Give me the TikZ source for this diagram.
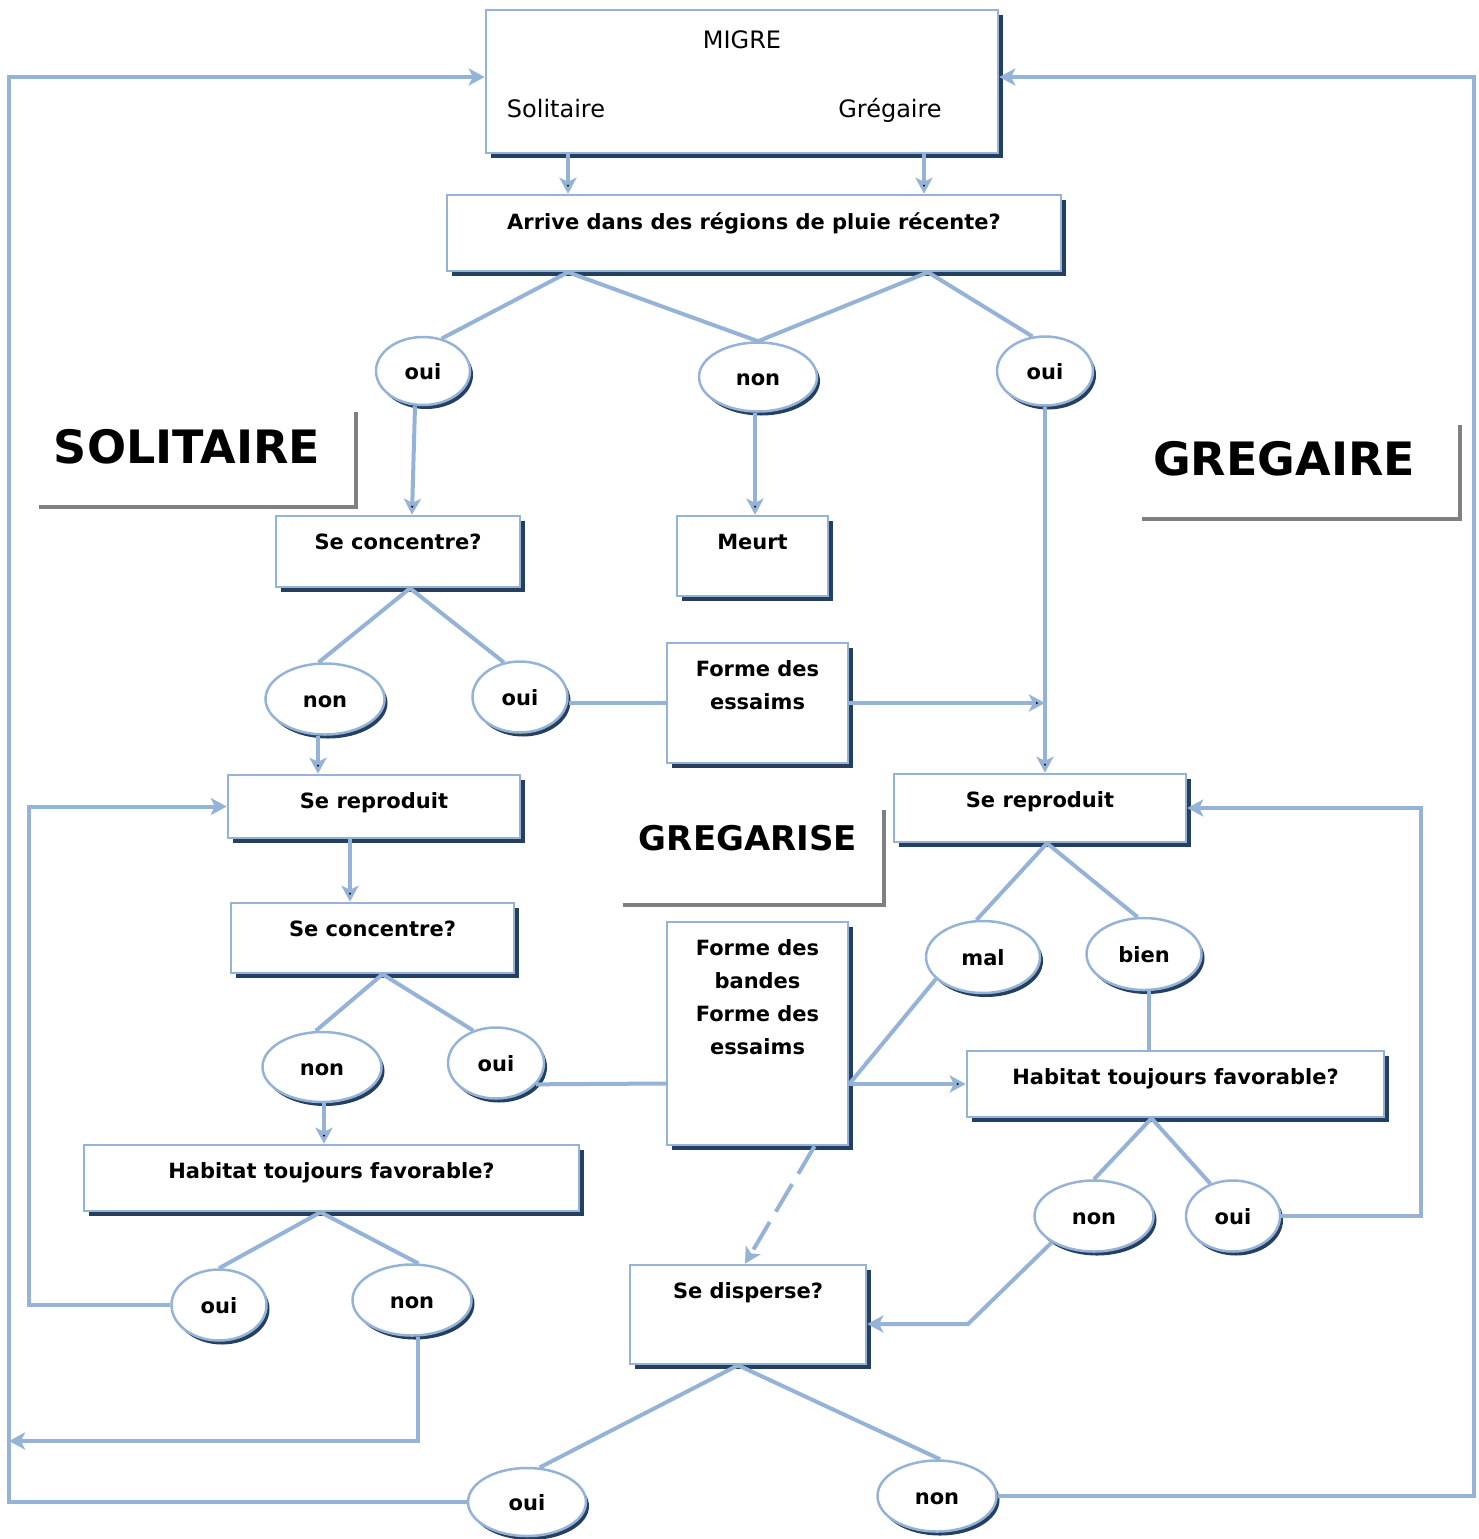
\documentclass[tikz,border=0pt]{standalone}
\usepackage{fontspec}
\setmainfont{DejaVu Sans}
\usetikzlibrary{shapes.geometric}
\usetikzlibrary{shadows}
\usetikzlibrary{arrows.meta}
\definecolor{lblue}{RGB}{149,179,215}
\definecolor{navy}{RGB}{36,63,96}
\definecolor{framegray}{RGB}{128,128,128}

\begin{document}
\begin{tikzpicture}[x=1pt,y=-1pt,>={Stealth[length=16pt,width=17pt,inset=4pt]},
  box/.style={rectangle,draw=lblue,line width=2.5pt,fill=white,drop shadow={shadow xshift=5pt,shadow yshift=-5pt,fill=navy,opacity=1}},
  oval/.style={ellipse,draw=lblue,line width=2.5pt,fill=white,inner sep=0pt,text height=17pt,text depth=0pt,font=\fontsize{21}{25}\selectfont\bfseries,drop shadow={shadow xshift=3pt,shadow yshift=-4pt,fill=navy,opacity=1}},
  lbl/.style={anchor=north,inner sep=0pt,yshift=-19pt,align=center,font=\fontsize{21}{33}\selectfont\bfseries},
  line/.style={draw=lblue,line width=4pt},
  frame/.style={draw=framegray,line width=4pt},
  title/.style={font=\fontsize{46}{50}\selectfont\bfseries}]

  \useasboundingbox (0,0) rectangle (1478,1539);

  % boxes
  \node[box,minimum width=512,minimum height=143,label={[lbl,yshift=-3pt,font=\fontsize{24}{28}\selectfont]north:MIGRE}] at (742,81.5) (migre) {};
  \node[anchor=base,font=\fontsize{24}{28}\selectfont] at (556,117) (soli) {Solitaire};
  \node[anchor=base,font=\fontsize{24}{28}\selectfont] at (890,117) (greg) {Grégaire};
  \node[box,minimum width=614,minimum height=76,label={[lbl]north:Arrive dans des régions de pluie récente?}] at (754,233) (arrive) {};
  \node[box,minimum width=244,minimum height=71,label={[lbl]north:Se concentre?}] at (398,551.5) (conc1) {};
  \node[box,minimum width=151,minimum height=80,label={[lbl]north:Meurt}] at (752.5,556) (meurt) {};
  \node[box,minimum width=181,minimum height=120,label={[lbl]north:Forme des\\essaims}] at (757.5,703) (essaims) {};
  \node[box,minimum width=292,minimum height=63,label={[lbl]north:Se reproduit}] at (374,806.5) (reprodL) {};
  \node[box,minimum width=292,minimum height=68,label={[lbl]north:Se reproduit}] at (1040,808) (reprodR) {};
  \node[box,minimum width=283,minimum height=70,label={[lbl]north:Se concentre?}] at (372.5,938) (conc2) {};
  \node[box,minimum width=181,minimum height=223,label={[lbl]north:Forme des\\bandes\\Forme des\\essaims}] at (757.5,1033.5) (bandes) {};
  \node[box,minimum width=495,minimum height=66,label={[lbl]north:Habitat toujours favorable?}] at (331.5,1178) (habL) {};
  \node[box,minimum width=417,minimum height=66,label={[lbl]north:Habitat toujours favorable?}] at (1175.5,1084) (habR) {};
  \node[box,minimum width=236,minimum height=99,label={[lbl]north:Se disperse?}] at (748,1314.5) (disp) {};

  % answers
  \node[oval,minimum width=94,minimum height=68] at (423,371) (oui1) {oui};
  \node[oval,minimum width=118,minimum height=69] at (758,377) (non1) {non};
  \node[oval,minimum width=96,minimum height=69] at (1045,371) (oui2) {oui};
  \node[oval,minimum width=119,minimum height=71] at (325,699) (non2) {non};
  \node[oval,minimum width=95,minimum height=71] at (520,697) (oui3) {oui};
  \node[oval,minimum width=114,minimum height=72] at (983,957) (mal) {mal};
  \node[oval,minimum width=115,minimum height=72] at (1144,954) (bien) {bien};
  \node[oval,minimum width=119,minimum height=70] at (322,1067) (non3) {non};
  \node[oval,minimum width=96,minimum height=71] at (496,1063) (oui4) {oui};
  \node[oval,minimum width=119,minimum height=71] at (1094,1216) (non4) {non};
  \node[oval,minimum width=94,minimum height=71] at (1233,1216) (oui5) {oui};
  \node[oval,minimum width=95,minimum height=71] at (219,1305) (oui6) {oui};
  \node[oval,minimum width=119,minimum height=71] at (412,1300) (non5) {non};
  \node[oval,minimum width=118,minimum height=68] at (527,1502) (oui7) {oui};
  \node[oval,minimum width=119,minimum height=71] at (937,1496) (non6) {non};

  % titles
  \node[title] at (187,447) (solitaire) {SOLITAIRE};
  \node[title] at (1284,459) (gregaire) {GREGAIRE};
  \node[title,font=\fontsize{34}{40}\selectfont\bfseries] at (748,838) (gregarise) {GREGARISE};
  \draw[frame] (39,507) -| (356,412);
  \draw[frame] (1142,519) -| (1460,425);
  \draw[frame] (623,905) -| (884,810);

  \coordinate (xL1) at (9,0);
  \coordinate (xL2) at (29,0);
  \coordinate (xR1) at (1474,0);
  \coordinate (xR2) at (1421,0);
  \coordinate (back) at (9,1441);
  \coordinate (kneeR) at (968,1324);
  \coordinate (join) at (bandes.east |- habR.west);
  \coordinate (migreW) at ([yshift=4.5pt]migre.west);
  \coordinate (migreE) at ([yshift=4.5pt]migre.east);

  \path[line]
  ([xshift=-174pt]migre.south) edge[->] ([xshift=-186pt]arrive.north)
  ([xshift=182pt]migre.south) edge[->] ([xshift=170pt]arrive.north)
  ([xshift=-186pt]arrive.south) edge (oui1.60)
  ([xshift=-186pt]arrive.south) edge (non1.north)
  ([xshift=174pt]arrive.south) edge (non1.north)
  ([xshift=174pt]arrive.south) edge (oui2.110)
  ([xshift=-8pt]oui1.south) edge[->] ([xshift=14pt]conc1.north)
  ([xshift=-3pt]non1.south) edge[->] ([xshift=-3pt]non1.south |- meurt.north)
  (oui2.south) edge[->] (oui2.south |- reprodR.north)
  ([xshift=12pt]conc1.south) edge (non2.100)
  ([xshift=12pt]conc1.south) edge (oui3.115)
  (essaims.west) edge (essaims.west -| oui3.east)
  (essaims.east) edge[->] (essaims.east -| oui2.south)
  ([xshift=-7pt]non2.south) edge[->] ([xshift=-7pt]non2.south |- reprodL.north)
  ([xshift=-24pt]reprodL.south) edge[->] ([xshift=-22.5pt]conc2.north)
  ([xshift=10pt]conc2.south) edge (non3.100)
  ([xshift=10pt]conc2.south) edge (oui4.125)
  ([yshift=-50pt]bandes.west) edge (oui4.-28)
  ([xshift=2pt]non3.south) edge[->] ([xshift=2pt]non3.south |- habL.north)
  ([xshift=-11pt]habL.south) edge (oui6.north)
  ([xshift=-11pt]habL.south) edge (non5.80)
  ([xshift=7pt]reprodR.south) edge (mal.100)
  ([xshift=7pt]reprodR.south) edge (bien.100)
  ([xshift=5pt]bien.south) edge ([xshift=5pt]bien.south |- habR.north)
  ([xshift=-24pt]habR.south) edge (non4.north)
  ([xshift=-24pt]habR.south) edge (oui5.125)
  (mal.205) edge (join)
  (join) edge[->] (habR.west)
  ([xshift=-10pt]disp.south) edge (oui7.70)
  ([xshift=-10pt]disp.south) edge (non6.85);

  \draw[line,->,dash pattern=on 32pt off 12pt] ([xshift=57pt]bandes.south) -- ([xshift=-3pt]disp.north);
  \draw[line,->] (non4.212) -- (kneeR) -- (kneeR -| disp.east);
  \draw[line,->] (oui7.west) -| (xL1 |- migreW) -- (migreW);
  \draw[line,->] (non6.east) -| (xR1 |- migreE) -- (migreE);
  \draw[line,->] (oui6.west) -| (xL2 |- reprodL.west) -- (reprodL.west);
  \draw[line,->] (oui5.east) -| (xR2 |- reprodR.east) -- (reprodR.east);
  \draw[line,->] (non5.-80) |- (back);

\end{tikzpicture}
\end{document}
